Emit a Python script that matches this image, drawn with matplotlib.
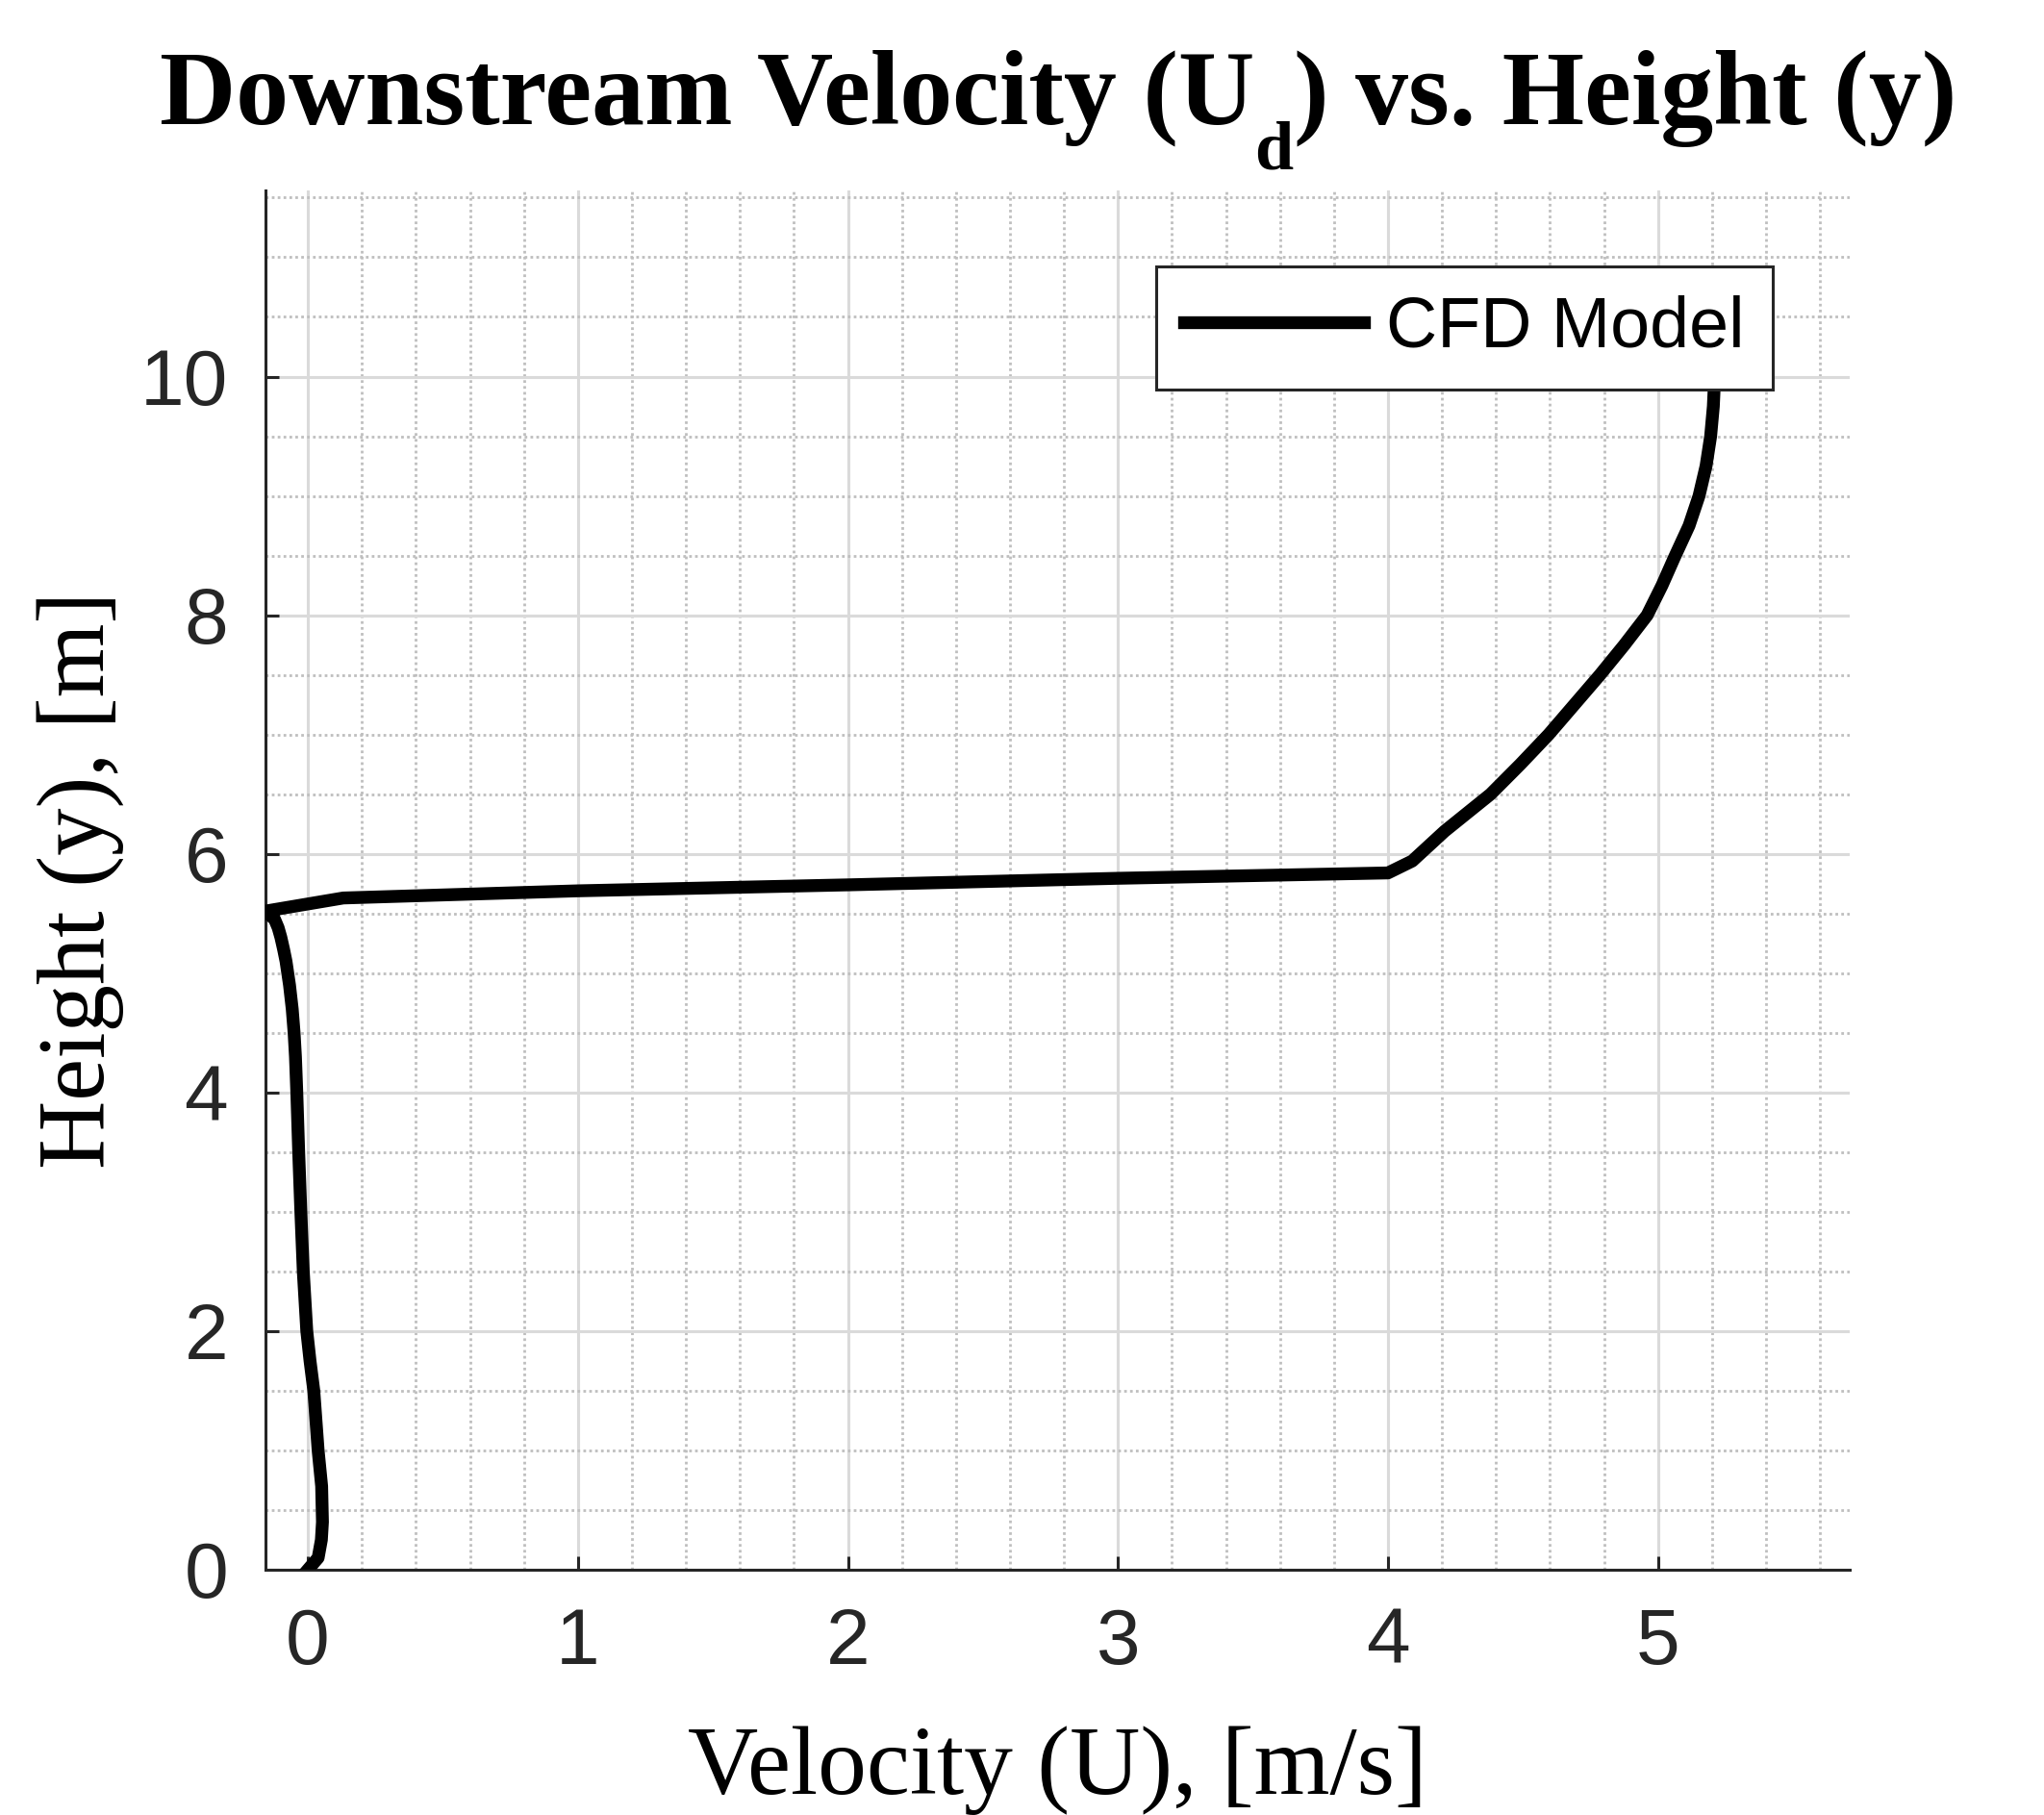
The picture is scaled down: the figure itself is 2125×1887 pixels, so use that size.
import numpy as np
import matplotlib
matplotlib.use("Agg")
import matplotlib.pyplot as plt
from matplotlib.ticker import MultipleLocator

# CFD profile
height = [0.0, 0.1, 0.25, 0.4, 0.7, 1.0, 1.5, 1.75, 2.0, 2.5, 3.0, 3.5, 4.0, 4.3,
          4.5, 4.7, 4.9, 5.1, 5.2, 5.3, 5.38, 5.45, 5.52, 5.63, 5.69, 5.74, 5.795,
          5.84, 5.94, 6.19, 6.5, 6.75, 7.0, 7.25, 7.5, 7.75, 8.0, 8.25, 8.48, 8.75,
          9.0, 9.25, 9.5, 9.75, 10.0]
velocity = [0.0, 0.038, 0.05, 0.054, 0.051, 0.038, 0.022, 0.008, -0.004, -0.017,
            -0.026, -0.034, -0.041, -0.046, -0.051, -0.058, -0.068, -0.081, -0.09,
            -0.10, -0.11, -0.123, -0.157, 0.131, 1.0, 2.0, 3.0, 4.0, 4.09, 4.21,
            4.38, 4.49, 4.595, 4.69, 4.785, 4.875, 4.96, 5.015, 5.06, 5.115, 5.152,
            5.178, 5.195, 5.205, 5.21]
series_label = "CFD Model"
x_ticks = [0, 1, 2, 3, 4, 5]
y_ticks = [0, 2, 4, 6, 8, 10]

W, H = 2125, 1887
fig = plt.figure(figsize=(W / 200, H / 200), dpi=200)
ax = fig.add_axes([276 / W, 1 - 1632 / H, 1647 / W, 1434 / H])

dark = '#262626'
ax.plot(velocity, height, color='k', lw=4.8, label=series_label, zorder=3)

ax.set_xlim(-0.157, 5.71)
ax.set_ylim(0, 11.56)
ax.set_xticks(x_ticks)
ax.set_yticks(y_ticks)
ax.xaxis.set_minor_locator(MultipleLocator(0.2))
ax.yaxis.set_minor_locator(MultipleLocator(0.5))

ax.grid(which='major', color='#dadada', lw=1.1, zorder=0)
ax.grid(which='minor', color='#bfbfbf', lw=1.0, ls=(0, (1, 1.2)), zorder=0)
ax.set_axisbelow(True)

for s in ['top', 'right']:
    ax.spines[s].set_visible(False)
for s in ['left', 'bottom']:
    ax.spines[s].set_color(dark)
    ax.spines[s].set_linewidth(1.1)

ax.tick_params(which='major', direction='in', length=5, width=1.1, color=dark,
               labelcolor=dark, labelsize=29.5, pad=14)
ax.tick_params(which='minor', length=0)
for lab in ax.get_xticklabels() + ax.get_yticklabels():
    lab.set_fontfamily('Liberation Sans')

ax.set_xlabel("Velocity (U), [m/s]", fontsize=36.5, family='Liberation Serif',
              color='k', labelpad=17)
ax.set_ylabel("Height (y), [m]", fontsize=35.5, family='Liberation Serif',
              color='k', labelpad=6)

# title built from pieces so the subscript sits low like the original
title_parts = ["Downstream Velocity (U", "d", ") vs. Height (y)"]
sizes = [39.5, 26, 39.5]
drops = [0, 47, 0]
renderer = fig.canvas.get_renderer()
texts = []
for txt, sz in zip(title_parts, sizes):
    t = fig.text(0, 0, txt, fontsize=sz, fontweight='bold',
                 family='Liberation Serif', va='baseline', ha='left')
    texts.append(t)
widths = [t.get_window_extent(renderer).width for t in texts]
x = 1100 - sum(widths) / 2
base = 129
for t, w, d in zip(texts, widths, drops):
    t.set_position((x / W, 1 - (base + d) / H))
    x += w

leg = ax.legend(loc='upper right', bbox_to_anchor=(0.9514, 0.945), borderaxespad=0,
                fancybox=False, framealpha=1, edgecolor=dark,
                prop={'family': 'Liberation Sans', 'size': 26.5},
                handlelength=2.54, handletextpad=0.31, borderpad=0.4)
leg.get_frame().set_linewidth(1.1)

fig.savefig("out.png", dpi=200)
